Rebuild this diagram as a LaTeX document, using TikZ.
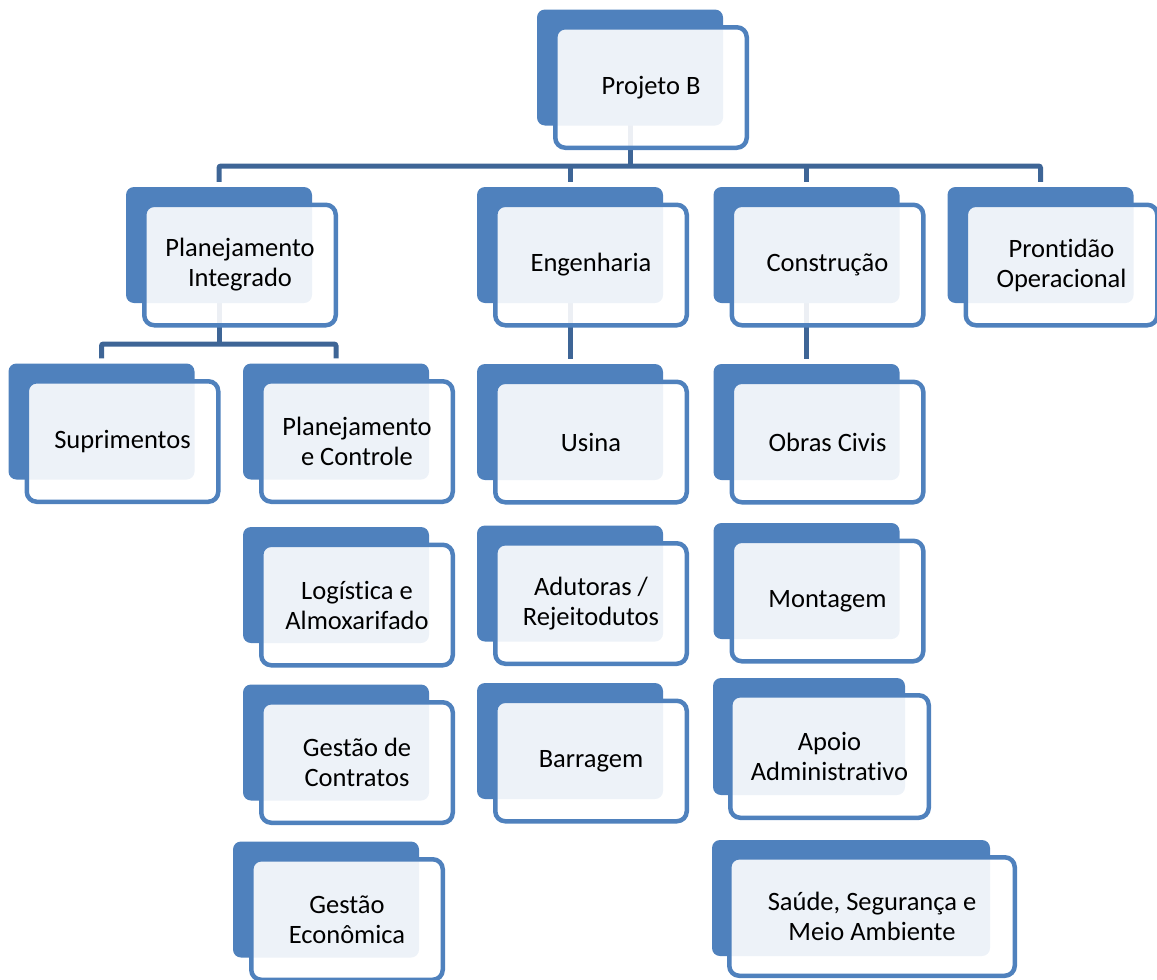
\documentclass[tikz,border=0pt]{standalone}
\usepackage{fontspec}
\setmainfont{Carlito}[Ligatures=NoCommon]
\usetikzlibrary{backgrounds,calc}
\definecolor{accent}{RGB}{79,129,189}
\definecolor{linkblue}{RGB}{62,101,150}
\tikzset{
  backbox/.style={rectangle, rounded corners=8pt, fill=accent, draw=none,
    minimum width=186pt, minimum height=116pt, inner sep=0pt},
  frontbox/.style={rectangle, rounded corners=10pt, draw=accent, line width=4.5pt,
    fill=white, fill opacity=0.9, text opacity=1, text=black,
    minimum width=191.5pt, minimum height=120.5pt, inner sep=0pt,
    align=center, font=\fontsize{26.5pt}{30pt}\selectfont},
  conn/.style={draw=linkblue, line width=5pt},
  off/.style={shift={(21,20)}}
}
\begin{document}
\begin{tikzpicture}[x=1pt, y=-1pt]
\useasboundingbox (0,0) rectangle (1157,980);

% top level
\node[backbox] (pb-b) at (630,67.5) {};
\node[frontbox] (pb) at ([off]pb-b.center) {Projeto B};

% second level
\node[backbox] (pi-b) at (219,245) {};
\node[frontbox] (pi) at ([off]pi-b.center) {Planejamento\\Integrado};
\node[backbox] (en-b) at (570,245) {};
\node[frontbox] (en) at ([off]en-b.center) {Engenharia};
\node[backbox] (co-b) at (806.5,245) {};
\node[frontbox] (co) at ([off]co-b.center) {Construção};
\node[backbox] (po-b) at (1040.5,245) {};
\node[frontbox] (po) at ([off]po-b.center) {Prontidão\\Operacional};

% Planejamento Integrado branch
\node[backbox] (su-b) at (101.5,421.5) {};
\node[frontbox] (su) at ([off]su-b.center) {Suprimentos};
\node[backbox] (pc-b) at (336,421.5) {};
\node[frontbox] (pc) at ([off]pc-b.center) {Planejamento\\e Controle};
\node[backbox] (la-b) at (336,585) {};
\node[frontbox] (la) at ([off]la-b.center) {Logística e\\Almoxarifado};
\node[backbox] (gc-b) at (336,742.5) {};
\node[frontbox] (gc) at ([off]gc-b.center) {Gestão de\\Contratos};
\node[backbox] (ge-b) at (326,899.5) {};
\node[frontbox] (ge) at ([off]ge-b.center) {Gestão\\Econômica};

% Engenharia branch
\node[backbox] (us-b) at (570,422) {};
\node[frontbox] (us) at ([off]us-b.center) {Usina};
\node[backbox] (ar-b) at (570,583.5) {};
\node[frontbox] (ar) at ([off]ar-b.center) {Adutoras /\\Rejeitodutos};
\node[backbox] (ba-b) at (570,741) {};
\node[frontbox] (ba) at ([off]ba-b.center) {Barragem};

% Construção branch
\node[backbox] (oc-b) at (806.5,422) {};
\node[frontbox] (oc) at ([off]oc-b.center) {Obras Civis};
\node[backbox] (mo-b) at (806.5,581) {};
\node[frontbox] (mo) at ([off]mo-b.center) {Montagem};
\node[backbox, minimum width=192pt, minimum height=117pt] (aa-b) at (809,736.5) {};
\node[frontbox, minimum width=198.5pt, minimum height=122.5pt] (aa) at ([shift={(20.5,20)}]aa-b.center) {Apoio\\Administrativo};
\node[backbox, minimum width=278pt] (ss-b) at (851,898) {};
\node[frontbox, minimum width=285.5pt, minimum height=118.5pt] (ss) at ([shift={(21,18.5)}]ss-b.center) {Saúde, Segurança e\\Meio Ambiente};

% connectors, kept behind the boxes
\coordinate (busA) at (0,166);
\coordinate (busB) at (0,344);
\begin{scope}[on background layer]
  \draw[conn] (pb-b.center) -- (pb-b.center |- busA);
  \draw[conn, rounded corners=2pt] ([yshift=5pt]pi-b.north) -- (pi-b.north |- busA)
        -- (po-b.north |- busA) -- ([yshift=5pt]po-b.north);
  \draw[conn] (en-b.north |- busA) -- ([yshift=5pt]en-b.north);
  \draw[conn] (co-b.north |- busA) -- ([yshift=5pt]co-b.north);

  \draw[conn] (pi-b.center) -- (pi-b.center |- busB);
  \draw[conn, rounded corners=2pt] ([yshift=5pt]su-b.north) -- (su-b.north |- busB)
        -- (pc-b.north |- busB) -- ([yshift=5pt]pc-b.north);
  \draw[conn] (en-b.center) -- ([yshift=5pt]us-b.north);
  \draw[conn] (co-b.center) -- ([yshift=5pt]oc-b.north);
\end{scope}
\end{tikzpicture}
\end{document}
